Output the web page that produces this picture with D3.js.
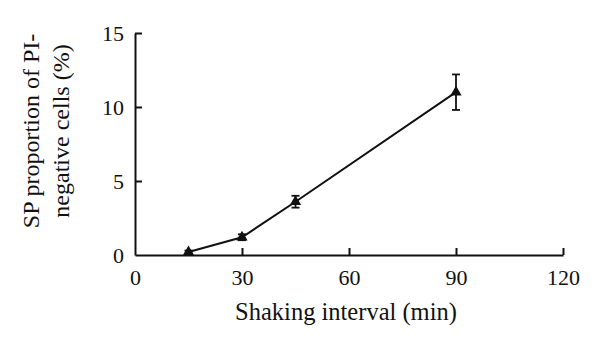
<!DOCTYPE html>
<html><head><meta charset="utf-8">
<script src="https://cdn.jsdelivr.net/npm/d3@7"></script>
<style>body{margin:0;background:#fff}svg{display:block}text{font-family:"Liberation Serif","DejaVu Serif",serif;fill:#111}</style>
</head><body><svg id="c" width="600" height="346"></svg>
<script>
const intervals = [15, 30, 45, 90];
const spValues = [0.2, 1.2, 3.6, 11.0];
const spErrors = [0.1, 0.2, 0.4, 1.2];
const xTicks = [0, 30, 60, 90, 120];
const yTicks = [0, 5, 10, 15];
const xTitle = "Shaking interval (min)";
const yTitleLines = ["SP proportion of PI-", "negative cells (%)"];

const svg = d3.select("#c");
const x = d3.scaleLinear().domain([0, 120]).range([135, 563]);
const y = d3.scaleLinear().domain([0, 15]).range([255, 33]);

const xAxis = svg.append("g").attr("transform", `translate(0,${y(0)})`)
  .call(d3.axisBottom(x).tickValues(xTicks).tickSizeInner(-7).tickSizeOuter(0).tickPadding(14));
const yAxis = svg.append("g").attr("transform", `translate(${x(0)},0)`)
  .call(d3.axisLeft(y).tickValues(yTicks).tickSizeInner(-7).tickSizeOuter(0).tickPadding(11));
[xAxis, yAxis].forEach(a => {
  a.attr("font-size", null).attr("font-family", null);
  a.selectAll("path.domain").attr("stroke", "#111").attr("stroke-width", 2);
  a.selectAll(".tick line").attr("stroke", "#111").attr("stroke-width", 2);
  a.selectAll(".tick text").style("font-size", "22px").attr("fill", "#111");
});
xAxis.selectAll(".tick").filter(d => d === 0).select("line").remove();
yAxis.selectAll(".tick").filter(d => d === 0).select("line").remove();
yAxis.selectAll(".tick text").attr("dy", "0.35em");

const data = intervals.map((v, i) => ({x: v, y: spValues[i], e: spErrors[i]}));

svg.append("path").datum(data)
  .attr("d", d3.line().x(d => x(d.x)).y(d => y(d.y)))
  .attr("fill", "none").attr("stroke", "#111").attr("stroke-width", 2);

const eb = svg.append("g").attr("stroke", "#111").attr("stroke-width", 1.8);
data.forEach(d => {
  eb.append("line").attr("x1", x(d.x)).attr("x2", x(d.x)).attr("y1", y(d.y + d.e)).attr("y2", y(d.y - d.e));
  eb.append("line").attr("x1", x(d.x) - 4).attr("x2", x(d.x) + 4).attr("y1", y(d.y + d.e)).attr("y2", y(d.y + d.e));
  eb.append("line").attr("x1", x(d.x) - 4).attr("x2", x(d.x) + 4).attr("y1", y(d.y - d.e)).attr("y2", y(d.y - d.e));
});

svg.append("g").selectAll("path").data(data).join("path")
  .attr("transform", d => `translate(${x(d.x)},${y(d.y)})`)
  .attr("d", d3.symbol(d3.symbolTriangle, 55))
  .attr("fill", "#111");

svg.append("text").attr("x", 346).attr("y", 320).attr("text-anchor", "middle")
  .style("font-size", "24.5px").text(xTitle);

const yt = svg.append("text").attr("transform", "translate(0,131) rotate(-90)").attr("text-anchor", "middle")
  .style("font-size", "24px");
yt.append("tspan").attr("x", 0).attr("y", 39).text(yTitleLines[0]);
yt.append("tspan").attr("x", 0).attr("y", 69).text(yTitleLines[1]);
</script></body></html>
